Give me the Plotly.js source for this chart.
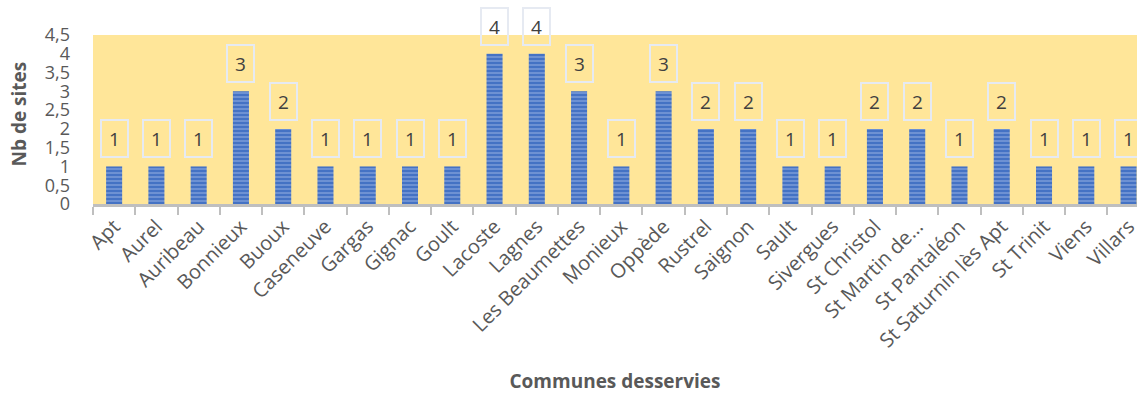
<!DOCTYPE html>
<html><head><meta charset="utf-8">
<script src="https://cdn.plot.ly/plotly-3.0.1.min.js"></script>
<style>html,body{margin:0;padding:0;background:#fff;}#chart{width:1137px;height:398px;}</style>
</head><body><div id="chart"></div>
<script>
const communes = ["Apt","Aurel","Auribeau","Bonnieux","Buoux","Caseneuve","Gargas","Gignac","Goult","Lacoste","Lagnes","Les Beaumettes","Monieux","Oppède","Rustrel","Saignon","Sault","Sivergues","St Christol","St Martin de…","St Pantaléon","St Saturnin lès Apt","St Trinit","Viens","Villars"];
const nbSites = [1,1,1,3,2,1,1,1,1,4,4,3,1,3,2,2,1,1,2,2,1,2,1,1,1];
const yTickVals = [0,0.5,1,1.5,2,2.5,3,3.5,4,4.5];
const yTickText = ["0","0,5","1","1,5","2","2,5","3","3,5","4","4,5"];
const yTitle = "Nb de sites";
const xTitle = "Communes desservies";

const FONT = "'Open Sans', 'Noto Sans', sans-serif";
const GREY = "#595959";

const trace = {
  type: "bar",
  x: communes,
  y: nbSites,
  width: 0.38,
  marker: {
    color: "#4472C4",
    line: {width: 0},
    pattern: {shape: "-", fgcolor: "#A9C0EA", bgcolor: "#4472C4", size: 4, solidity: 0.4, fillmode: "overlay"}
  },
  hoverinfo: "x+y"
};

const annotations = communes.map((c, i) => ({
  x: c, y: nbSites[i], xref: "x", yref: "y",
  text: String(nbSites[i]),
  showarrow: false,
  yanchor: "bottom",
  yshift: 8,
  font: {family: FONT, size: 19, color: "#404040"},
  bordercolor: "#E6EAF2",
  borderwidth: 2,
  borderpad: 1,
  width: 23,
  height: 33,
  bgcolor: "rgba(0,0,0,0)"
}));
annotations.push({
  xref: "paper", yref: "paper", x: 0, y: 0.5, xshift: -75, yshift: 5,
  text: "<b>" + yTitle + "</b>", textangle: -90, showarrow: false,
  xanchor: "center", yanchor: "middle",
  font: {family: FONT, size: 19, color: GREY}
});

const layout = {
  width: 1137, height: 398,
  margin: {l: 93, r: 0, t: 35, b: 194, pad: 0},
  paper_bgcolor: "#ffffff",
  plot_bgcolor: "#FFE699",
  showlegend: false,
  bargap: 0.6,
  font: {family: FONT, color: GREY},
  xaxis: {
    type: "category",
    range: [-0.5, 24.2],
    tickangle: -45,
    tickfont: {family: FONT, size: 20, color: GREY},
    showline: true, linecolor: "#BFBFBF", linewidth: 3,
    ticks: "outside", tickson: "boundaries", ticklen: 8, tickcolor: "#BFBFBF", tickwidth: 2,
    showgrid: false, zeroline: false,
    title: {text: xTitle, font: {family: FONT, size: 19, color: GREY, weight: "bold"}, standoff: 23}
  },
  yaxis: {
    range: [0, 4.5],
    tickmode: "array", tickvals: yTickVals, ticktext: yTickText,
    tickfont: {family: FONT, size: 18, color: GREY},
    showline: false, showgrid: false, zeroline: false,
    ticks: "", ticklabelstandoff: 22
  },
  annotations: annotations
};

Plotly.newPlot("chart", [trace], layout, {displayModeBar: false, staticPlot: true});
</script>
</body></html>
